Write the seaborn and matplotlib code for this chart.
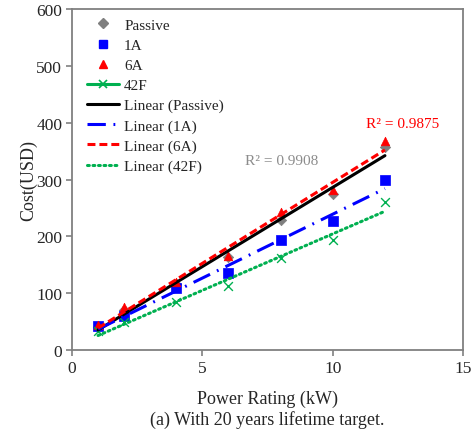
import numpy as np
import pandas as pd
import seaborn as sns
import matplotlib.pyplot as plt
from matplotlib.lines import Line2D

sns.set_style("white")
plt.rcParams['font.family'] = ['Liberation Serif', 'DejaVu Serif']

# Power rating (kW) and cost (USD) per capacitor technology
power_kw = [1, 2, 4, 6, 8, 10, 12]
cost_passive = [40, 70, 116, 164, 228, 275, 358]
cost_1a = [43, 59, 109, 135, 194, 227, 299]
cost_6a = [44, 75, 119, 166, 243, 281, 368]
cost_42f = [33, 49, 84, 112, 162, 193, 261]

r2_passive = "R² = 0.9908"
r2_6a = "R² = 0.9875"

fig = plt.figure(figsize=(4.77, 4.39), dpi=100)
ax = fig.add_axes([0.151, 0.2005, 0.820, 0.7765])

series = [
    ("Passive", cost_passive, "#7f7f7f", "D", 28, "Linear (Passive)", "black", "-"),
    ("1A", cost_1a, "#0000ff", "s", 42, "Linear (1A)", "#0000ff", (0, (6, 2.5, 0.6, 2.5))),
    ("6A", cost_6a, "#ff0000", "^", 38, "Linear (6A)", "#ff0000", (0, (2.6, 1.3))),
    ("42F", cost_42f, "#00b050", "x", 40, "Linear (42F)", "#00b050", (0, (0.6, 1.2))),
]

for name, cost, color, marker, size, _, _, _ in series:
    df = pd.DataFrame({"power": power_kw, "cost": cost})
    sns.scatterplot(data=df, x="power", y="cost", ax=ax, color=color, marker=marker,
                    s=size, edgecolor=color if marker != "x" else None,
                    linewidth=1.0 if marker == "x" else 0.5, zorder=3)

for name, cost, color, _, _, fit_name, line_color, ls in series:
    df = pd.DataFrame({"power": power_kw, "cost": cost})
    sns.regplot(data=df, x="power", y="cost", ax=ax, scatter=False, ci=None,
                line_kws=dict(color=line_color, linestyle=ls, linewidth=2.2,
                              dash_capstyle="round" if fit_name == "Linear (42F)" else "butt",
                              zorder=4))

ax.set_xlim(0, 15)
ax.set_ylim(0, 600)
ax.set_xticks([0, 5, 10, 15])
ax.set_yticks(range(0, 601, 100))
ax.tick_params(axis="both", direction="out", length=4, width=1.2, color="#808080",
               labelsize=12.5, pad=3, bottom=True, left=True)
for sp in ax.spines.values():
    sp.set_color("#808080")
    sp.set_linewidth(1.3)

ax.set_xlabel("Power Rating (kW)", fontsize=13, labelpad=10)
ax.set_ylabel("Cost(USD)", fontsize=13, labelpad=-1)

ax.text(6.64, 333, r2_passive, color="#8c8c8c", fontsize=11, va="center")
ax.text(11.28, 399, r2_6a, color="#ff0000", fontsize=11, va="center")

handles = [
    Line2D([], [], color="#7f7f7f", marker="D", linestyle="none", markersize=5),
    Line2D([], [], color="#0000ff", marker="s", linestyle="none", markersize=6),
    Line2D([], [], color="#ff0000", marker="^", linestyle="none", markersize=5.5),
    Line2D([], [], color="#00b050", marker="x", linestyle="-", linewidth=2.2,
           markersize=6, markeredgewidth=1.2),
    Line2D([], [], color="black", linestyle="-", linewidth=2.2),
    Line2D([], [], color="#0000ff", linestyle=(0, (6, 2.5, 0.6, 2.5)), linewidth=2.2),
    Line2D([], [], color="#ff0000", linestyle=(0, (2.6, 1.3)), linewidth=2.2),
    Line2D([], [], color="#00b050", linestyle=(0, (0.6, 1.2)), linewidth=2.2,
           dash_capstyle="round"),
]
labels = ["Passive", "1A", "6A", "42F", "Linear (Passive)", "Linear (1A)",
          "Linear (6A)", "Linear (42F)"]
ax.legend(handles, labels, loc="upper left", bbox_to_anchor=(0.01, 1.005), frameon=False,
          fontsize=11, handlelength=2.1, handletextpad=0.35, labelspacing=0.42,
          borderaxespad=0.3)

fig.text(0.5 * (0.151 + 0.971), 0.043, "(a) With 20 years lifetime target.",
         ha="center", va="center", fontsize=13)

fig.savefig("out.png", dpi=100)
